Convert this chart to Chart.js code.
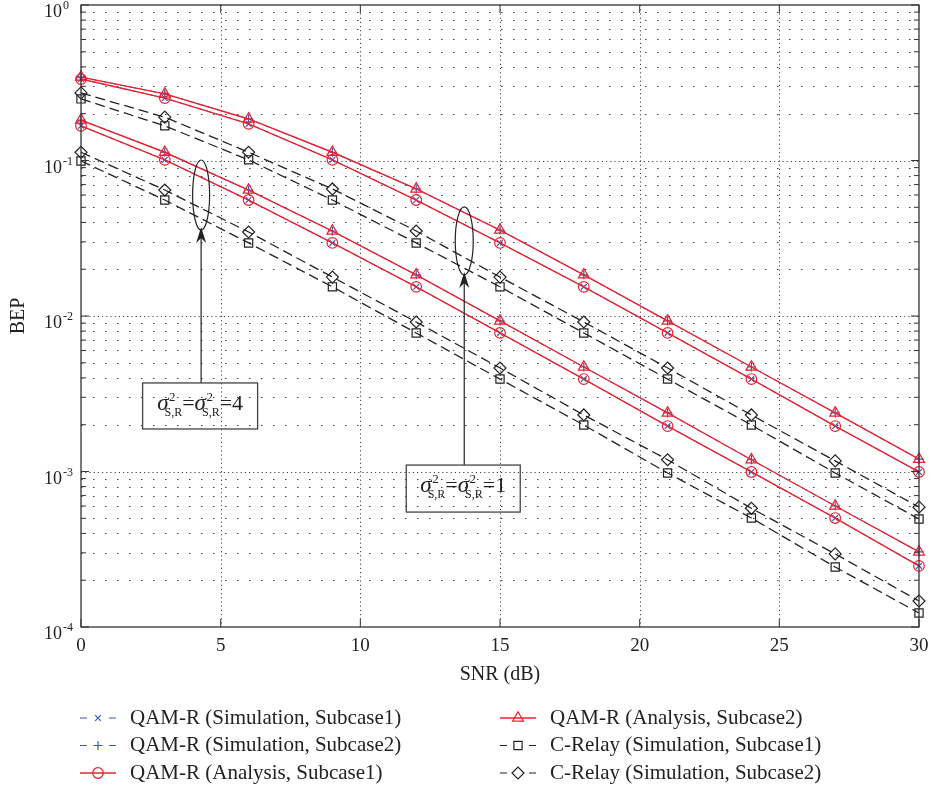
<!DOCTYPE html>
<html lang="en">
<head>
<meta charset="UTF-8">
<title>BEP vs SNR</title>
<script src="https://cdn.jsdelivr.net/npm/chart.js"></script>
<style>
  html, body { margin: 0; padding: 0; background: #fff; }
</style>
</head>
<body>
<canvas id="bepChart" width="931" height="790"></canvas>

<script>
// x axis: SNR in dB
const snr = [0, 3, 6, 9, 12, 15, 18, 21, 24, 27, 30];
const xTickValues = [0, 5, 10, 15, 20, 25, 30];
const yDecades = [1, 1e-1, 1e-2, 1e-3, 1e-4];

const seriesLabels = [
    'QAM-R (Simulation, Subcase1)',
    'QAM-R (Simulation, Subcase2)',
    'QAM-R (Analysis, Subcase1)',
    'QAM-R (Analysis, Subcase2)',
    'C-Relay (Simulation, Subcase1)',
    'C-Relay (Simulation, Subcase2)'
];

// sigma^2 = 1 (upper bundle)
const simSub1Var1   = [0.334, 0.252, 0.172, 0.101, 0.0557, 0.0295, 0.0154, 0.00778, 0.00393, 0.00196, 0.000993];
const simSub2Var1   = [0.344, 0.268, 0.185, 0.113, 0.0656, 0.0357, 0.0184, 0.00929, 0.00470, 0.00238, 0.00120];
const anaSub1Var1   = [0.334, 0.252, 0.172, 0.101, 0.0557, 0.0295, 0.0154, 0.00778, 0.00393, 0.00196, 0.000993];
const anaSub2Var1   = [0.344, 0.268, 0.185, 0.113, 0.0656, 0.0357, 0.0184, 0.00929, 0.00470, 0.00238, 0.00120];
const relaySub1Var1 = [0.249, 0.167, 0.101, 0.0557, 0.0295, 0.0154, 0.00778, 0.00393, 0.00199, 0.000978, 0.000495];
const relaySub2Var1 = [0.272, 0.190, 0.113, 0.0656, 0.0352, 0.0178, 0.00915, 0.00463, 0.00231, 0.00117, 0.000590];

// sigma^2 = 4 (lower bundle)
const simSub1Var4   = [0.167, 0.101, 0.0557, 0.0295, 0.0154, 0.00778, 0.00393, 0.00196, 0.000993, 0.000502, 0.000247];
const simSub2Var4   = [0.182, 0.113, 0.0646, 0.0352, 0.0184, 0.00929, 0.00470, 0.00238, 0.00119, 0.000600, 0.000304];
const anaSub1Var4   = [0.167, 0.101, 0.0557, 0.0295, 0.0154, 0.00778, 0.00393, 0.00196, 0.000993, 0.000502, 0.000247];
const anaSub2Var4   = [0.182, 0.113, 0.0646, 0.0352, 0.0184, 0.00929, 0.00470, 0.00238, 0.00119, 0.000600, 0.000304];
const relaySub1Var4 = [0.0993, 0.0557, 0.0295, 0.0154, 0.00778, 0.00393, 0.00199, 0.000978, 0.000502, 0.000243, 0.000123];
const relaySub2Var4 = [0.113, 0.0646, 0.0347, 0.0178, 0.00915, 0.00463, 0.00231, 0.00119, 0.000580, 0.000295, 0.000147];

const seriesData = [
    [simSub1Var1, simSub1Var4],
    [simSub2Var1, simSub2Var4],
    [anaSub1Var1, anaSub1Var4],
    [anaSub2Var1, anaSub2Var4],
    [relaySub1Var1, relaySub1Var4],
    [relaySub2Var1, relaySub2Var4]
];

const RED = '#e8222e', BLUE = '#3456bb', BLACK = '#222';
const FONT = "'Liberation Serif', 'Times New Roman', serif";

const seriesStyles = [
    { color: BLUE,  dash: [6, 4],  point: 'crossRot', r: 4,   width: 1,   order: 1, solid: false },
    { color: BLUE,  dash: [6, 4],  point: 'cross',    r: 4.5, width: 1,   order: 1, solid: false },
    { color: RED,   dash: [],      point: 'circle',   r: 5.3, width: 1.4, order: 0, solid: true },
    { color: RED,   dash: [],      point: 'triangle', r: 6.3, width: 1.4, order: 0, solid: true },
    { color: BLACK, dash: [10, 5], point: 'rect',     r: 5.8, width: 1.3, order: 2, solid: false },
    { color: BLACK, dash: [10, 5], point: 'rectRot',  r: 6,   width: 1.3, order: 2, solid: false }
];

// ellipse + arrow + box annotations (x in dB, y in BEP)
const notes = [
    { x: 4.3,   yEll: 0.060,  rx: 8.5, ry: 35, boxTop: 0.00371, boxW: 115, boxH: 46, value: '4' },
    { x: 13.72, yEll: 0.0304, rx: 9,   ry: 34, boxTop: 0.00110, boxW: 114, boxH: 47, value: '1' }
];

const datasets = [];
seriesLabels.forEach((label, i) => {
    const st = seriesStyles[i];
    seriesData[i].forEach(values => {
        datasets.push({
            label,
            data: snr.map((x, k) => ({ x, y: values[k] })),
            borderColor: st.color,
            borderWidth: st.width,
            borderDash: st.dash,
            pointStyle: st.point,
            pointRadius: st.r,
            pointBorderColor: st.color,
            pointBackgroundColor: 'rgba(0,0,0,0)',
            pointBorderWidth: 1.2,
            tension: 0,
            fill: false,
            clip: false,
            order: st.order
        });
    });
});

function sigmaTerm(ctx, x, base, draw) {
    ctx.font = 'italic 23px ' + FONT;
    const ws = ctx.measureText('σ').width;
    ctx.font = '12px ' + FONT;
    const wsub = ctx.measureText('S,R').width;
    if (draw) {
        ctx.font = 'italic 23px ' + FONT;
        ctx.fillText('σ', x, base);
        ctx.font = '13px ' + FONT;
        ctx.fillText('2', x + ws + 0.5, base - 9);
        ctx.font = '12px ' + FONT;
        ctx.fillText('S,R', x + ws - 4, base + 6);
    }
    return ws - 4 + wsub;
}

function drawSigmaEq(ctx, cx, base, value) {
    const w1 = sigmaTerm(ctx, 0, 0, false);
    ctx.font = '22px ' + FONT;
    const we = ctx.measureText('=').width;
    const wv = ctx.measureText(value).width;
    const total = 2 * w1 + 2 * we + wv;
    let x = cx - total / 2;
    ctx.textAlign = 'left';
    ctx.textBaseline = 'alphabetic';
    x += sigmaTerm(ctx, x, base, true);
    ctx.font = '22px ' + FONT; ctx.fillText('=', x, base); x += we;
    x += sigmaTerm(ctx, x, base, true);
    ctx.font = '22px ' + FONT; ctx.fillText('=' + value, x, base);
}

const matlabFrame = {
    id: 'matlabFrame',
    beforeDatasetsDraw(chart) {
        const { ctx, chartArea: a, scales: { x, y } } = chart;
        ctx.save();
        ctx.strokeStyle = '#444';
        ctx.lineWidth = 1;
        // minor horizontal grid
        ctx.setLineDash([1.5, 10.5]);
        yDecades.slice(1).forEach(d => {
            for (let k = 2; k <= 9; k++) {
                const py = Math.round(y.getPixelForValue(d * k)) + 0.5;
                ctx.beginPath(); ctx.moveTo(a.left, py); ctx.lineTo(a.right, py); ctx.stroke();
            }
        });
        // major grid
        ctx.setLineDash([1.2, 3]);
        yDecades.slice(1, -1).forEach(d => {
            const py = Math.round(y.getPixelForValue(d)) + 0.5;
            ctx.beginPath(); ctx.moveTo(a.left, py); ctx.lineTo(a.right, py); ctx.stroke();
        });
        xTickValues.slice(1, -1).forEach(v => {
            const px = Math.round(x.getPixelForValue(v)) + 0.5;
            ctx.beginPath(); ctx.moveTo(px, a.top); ctx.lineTo(px, a.bottom); ctx.stroke();
        });
        ctx.restore();
    },
    afterDatasetsDraw(chart) {
        const { ctx, chartArea: a, scales: { x, y } } = chart;
        ctx.save();
        ctx.strokeStyle = '#333';
        ctx.lineWidth = 1.3;
        ctx.setLineDash([]);
        ctx.strokeRect(a.left, a.top, a.right - a.left, a.bottom - a.top);
        ctx.lineWidth = 1;
        ctx.beginPath();
        xTickValues.forEach(v => {
            const px = x.getPixelForValue(v);
            ctx.moveTo(px, a.bottom); ctx.lineTo(px, a.bottom - 8);
            ctx.moveTo(px, a.top); ctx.lineTo(px, a.top + 8);
        });
        yDecades.forEach(d => {
            const py = y.getPixelForValue(d);
            ctx.moveTo(a.left, py); ctx.lineTo(a.left + 8, py);
            ctx.moveTo(a.right, py); ctx.lineTo(a.right - 8, py);
            if (d < 1) {
                for (let k = 2; k <= 9; k++) {
                    const pm = y.getPixelForValue(d * k);
                    ctx.moveTo(a.left, pm); ctx.lineTo(a.left + 5, pm);
                    ctx.moveTo(a.right, pm); ctx.lineTo(a.right - 5, pm);
                }
            }
        });
        ctx.stroke();

        // annotations
        ctx.strokeStyle = '#222';
        ctx.fillStyle = '#222';
        notes.forEach(n => {
            const cx = x.getPixelForValue(n.x);
            const cy = y.getPixelForValue(n.yEll);
            const top = y.getPixelForValue(n.boxTop);
            ctx.lineWidth = 1.2;
            ctx.beginPath();
            ctx.ellipse(cx, cy, n.rx, n.ry, 0, 0, Math.PI * 2);
            ctx.stroke();
            const tip = cy + n.ry - 3;
            ctx.beginPath(); ctx.moveTo(cx, top); ctx.lineTo(cx, tip + 10); ctx.stroke();
            ctx.beginPath();
            ctx.moveTo(cx, tip);
            ctx.lineTo(cx - 5, tip + 16);
            ctx.lineTo(cx, tip + 11);
            ctx.lineTo(cx + 5, tip + 16);
            ctx.closePath();
            ctx.fill();
            ctx.strokeStyle = '#444';
            ctx.lineWidth = 1.3;
            ctx.strokeRect(cx - n.boxW / 2 - 1, top, n.boxW, n.boxH);
            ctx.strokeStyle = '#222';
            ctx.fillStyle = '#222';
            drawSigmaEq(ctx, cx - 1, top + 27, n.value);
        });
        ctx.restore();
    },
    afterDraw(chart) {
        const { ctx, scales: { y } } = chart;
        ctx.save();
        ctx.fillStyle = '#222';
        // y tick labels 10^n
        yDecades.forEach(d => {
            const py = y.getPixelForValue(d);
            const e = Math.round(Math.log10(d));
            ctx.textBaseline = 'alphabetic';
            ctx.font = '18px ' + FONT;
            ctx.textAlign = 'right';
            ctx.fillText('10', 62, py + 12);
            ctx.font = '12px ' + FONT;
            ctx.textAlign = 'left';
            ctx.fillText(e === 0 ? '0' : '-' + Math.abs(e), 63, py + 4);
        });

        // legend, two columns of three
        const colX = [80, 500];
        const rowY = [718, 745.5, 773];
        seriesLabels.forEach((label, i) => {
            const st = seriesStyles[i];
            const sx = colX[Math.floor(i / 3)];
            const sy = rowY[i % 3];
            ctx.strokeStyle = st.color;
            ctx.lineWidth = st.solid ? 1.4 : 1.2;
            ctx.setLineDash([]);
            ctx.beginPath();
            if (st.solid) {
                ctx.moveTo(sx, sy); ctx.lineTo(sx + 36, sy);
            } else {
                ctx.moveTo(sx, sy); ctx.lineTo(sx + 7, sy);
                ctx.moveTo(sx + 29, sy); ctx.lineTo(sx + 36, sy);
            }
            ctx.stroke();
            ctx.fillStyle = 'rgba(0,0,0,0)';
            ctx.lineWidth = 1.2;
            Chart.helpers.drawPoint(ctx, { pointStyle: st.point, radius: st.r, borderWidth: 1.2, rotation: 0 }, sx + 18, sy);
            ctx.fillStyle = '#222';
            ctx.font = '21px ' + FONT;
            ctx.textAlign = 'left';
            ctx.textBaseline = 'middle';
            ctx.fillText(label, sx + 50, sy);
        });
        ctx.restore();
    }
};

Chart.defaults.font.family = FONT;

new Chart(document.getElementById('bepChart'), {
    type: 'line',
    data: { datasets },
    options: {
        responsive: false,
        devicePixelRatio: 1,
        animation: false,
        events: [],
        layout: { autoPadding: false, padding: { top: 5, right: 12, bottom: 98, left: 0 } },
        plugins: {
            legend: { display: false },
            tooltip: { enabled: false }
        },
        scales: {
            x: {
                type: 'linear',
                min: 0,
                max: 30,
                afterBuildTicks: s => { s.ticks = xTickValues.map(v => ({ value: v })); },
                ticks: { font: { size: 19 }, color: '#222', padding: 8, maxRotation: 0, autoSkip: false },
                grid: { display: false, drawTicks: false },
                border: { display: false },
                title: { display: true, text: 'SNR (dB)', font: { size: 20 }, color: '#222', padding: { top: 0, bottom: 5 } },
                afterFit: s => { s.height = 65; s.paddingLeft = 0; s.paddingRight = 0; }
            },
            y: {
                type: 'logarithmic',
                min: 1e-4,
                max: 1,
                ticks: { display: false },
                grid: { display: false, drawTicks: false },
                border: { display: false },
                title: { display: true, text: 'BEP', font: { size: 20 }, color: '#222', padding: { top: 7, bottom: 0 } },
                afterFit: s => { s.width = 81; s.paddingTop = 0; s.paddingBottom = 0; }
            }
        }
    },
    plugins: [matlabFrame]
});
</script>
</body>
</html>
